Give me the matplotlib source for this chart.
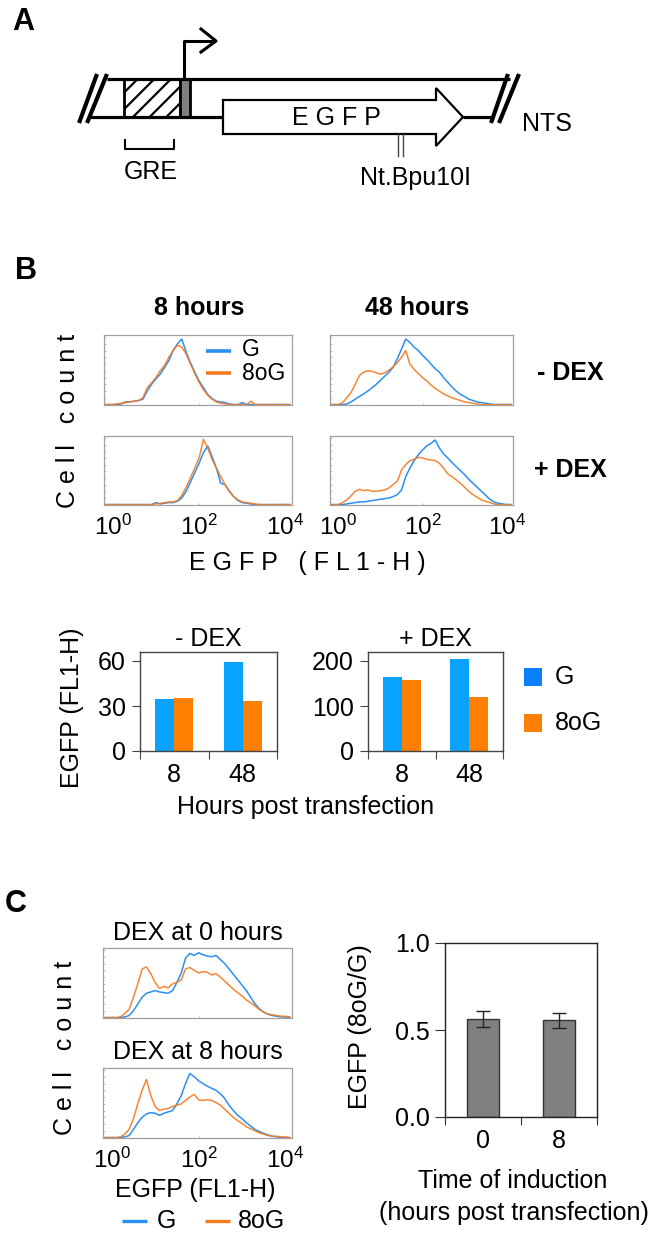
import matplotlib
matplotlib.use("Agg")
import matplotlib.pyplot as plt
import numpy as np
from matplotlib.patches import Polygon, Rectangle

plt.rcParams['font.family'] = ['Liberation Sans', 'DejaVu Sans']
plt.rcParams['mathtext.default'] = 'regular'
plt.rcParams['hatch.linewidth'] = 1.6
FS = 18

# ---- data ----
# flow histograms: log10(EGFP) bins and normalised cell counts
LOG_BINS = [-0.2, -0.1, 0.0, 0.1, 0.2, 0.3, 0.4, 0.5, 0.6, 0.7,
            0.8, 0.9, 1.0, 1.1, 1.2, 1.3, 1.4, 1.5, 1.6, 1.7,
            1.8, 1.9, 2.0, 2.1, 2.2, 2.3, 2.4, 2.5, 2.6, 2.7,
            2.8, 2.9, 3.0, 3.1, 3.2, 3.3, 3.4, 3.5, 3.6, 3.7,
            3.8, 3.9, 4.0, 4.1]

h8_minus_G = [0, 0, 0, 0, 0.01, 0.04, 0.04, 0.05, 0.06, 0.08,
              0.2, 0.3, 0.38, 0.45, 0.55, 0.65, 0.8, 0.9, 0.97, 0.78,
              0.62, 0.48, 0.35, 0.25, 0.15, 0.09, 0.05, 0.04, 0.03, 0.01,
              0, 0, 0.03, 0, 0, 0, 0, 0, 0, 0,
              0, 0, 0, 0]
h8_minus_8oG = [0, 0, 0, 0.01, 0.02, 0.03, 0.04, 0.05, 0.06, 0.1,
                0.25, 0.32, 0.4, 0.5, 0.58, 0.7, 0.8, 0.88, 0.85, 0.75,
                0.6, 0.46, 0.33, 0.22, 0.14, 0.08, 0.04, 0.02, 0.01, 0,
                0, 0, 0, 0, 0.05, 0, 0, 0, 0, 0,
                0, 0, 0, 0]
h48_minus_G = [0, 0, 0, 0, 0.01, 0.04, 0.08, 0.12, 0.16, 0.2,
               0.25, 0.3, 0.36, 0.42, 0.48, 0.55, 0.68, 0.82, 0.97, 0.92,
               0.85, 0.8, 0.73, 0.67, 0.6, 0.53, 0.48, 0.4, 0.33, 0.26,
               0.2, 0.15, 0.12, 0.08, 0.06, 0.04, 0.03, 0.02, 0.01, 0,
               0, 0, 0, 0]
h48_minus_8oG = [0, 0, 0, 0.03, 0.1, 0.18, 0.3, 0.43, 0.48, 0.5,
                 0.49, 0.47, 0.45, 0.47, 0.51, 0.56, 0.62, 0.7, 0.8, 0.6,
                 0.52, 0.46, 0.4, 0.35, 0.29, 0.24, 0.2, 0.16, 0.13, 0.1,
                 0.08, 0.06, 0.04, 0.03, 0.02, 0.01, 0, 0, 0, 0,
                 0, 0, 0, 0]
h8_plus_G = [0, 0, 0, 0, 0, 0, 0, 0, 0, 0,
             0, 0, 0.03, 0.01, 0.02, 0.03, 0.03, 0.05, 0.1, 0.2,
             0.34, 0.48, 0.62, 0.78, 0.88, 0.72, 0.55, 0.32, 0.3, 0.2,
             0.12, 0.06, 0.03, 0.02, 0.01, 0, 0, 0, 0, 0,
             0, 0, 0, 0]
h8_plus_8oG = [0, 0, 0, 0, 0, 0, 0, 0, 0, 0,
               0, 0, 0.01, 0.02, 0.03, 0.04, 0.04, 0.06, 0.14, 0.26,
               0.4, 0.55, 0.7, 0.98, 0.85, 0.68, 0.55, 0.42, 0.3, 0.2,
               0.12, 0.07, 0.04, 0.03, 0.02, 0.01, 0, 0, 0, 0,
               0, 0, 0, 0]
h48_plus_G = [0, 0, 0, 0, 0.01, 0.02, 0.03, 0.04, 0.04, 0.05,
              0.06, 0.07, 0.08, 0.09, 0.1, 0.12, 0.15, 0.22, 0.42, 0.55,
              0.66, 0.75, 0.82, 0.88, 0.92, 0.97, 0.85, 0.76, 0.7, 0.63,
              0.57, 0.51, 0.45, 0.38, 0.32, 0.26, 0.2, 0.14, 0.08, 0.04,
              0.02, 0.01, 0, 0]
h48_plus_8oG = [0, 0, 0, 0.03, 0.07, 0.13, 0.2, 0.23, 0.21, 0.22,
                0.2, 0.2, 0.21, 0.22, 0.25, 0.3, 0.35, 0.52, 0.6, 0.66,
                0.68, 0.71, 0.7, 0.68, 0.67, 0.66, 0.62, 0.55, 0.46, 0.42,
                0.37, 0.32, 0.26, 0.2, 0.15, 0.11, 0.07, 0.05, 0.03, 0.01,
                0, 0, 0, 0]
dex0_G = [0, 0, 0, 0, 0, 0.01, 0.03, 0.1, 0.2, 0.3,
          0.36, 0.38, 0.4, 0.38, 0.37, 0.36, 0.4, 0.52, 0.66, 0.88,
          0.95, 0.92, 0.96, 0.93, 0.91, 0.9, 0.92, 0.86, 0.8, 0.72,
          0.64, 0.56, 0.48, 0.4, 0.3, 0.2, 0.13, 0.08, 0.05, 0.03,
          0.02, 0.01, 0.01, 0]
dex0_8oG = [0, 0, 0, 0, 0.01, 0.06, 0.12, 0.3, 0.5, 0.72,
            0.75, 0.65, 0.52, 0.43, 0.46, 0.44, 0.5, 0.52, 0.56, 0.72,
            0.74, 0.7, 0.66, 0.68, 0.67, 0.63, 0.65, 0.6, 0.54, 0.48,
            0.42, 0.37, 0.32, 0.26, 0.22, 0.17, 0.12, 0.08, 0.05, 0.04,
            0.03, 0.02, 0.02, 0.01]
dex8_G = [0, 0, 0, 0, 0, 0.01, 0.03, 0.12, 0.22, 0.3,
          0.35, 0.37, 0.36, 0.33, 0.36, 0.38, 0.4, 0.5, 0.62, 0.8,
          0.95, 0.9, 0.84, 0.8, 0.76, 0.73, 0.7, 0.65, 0.58, 0.48,
          0.4, 0.33, 0.28, 0.22, 0.17, 0.12, 0.09, 0.06, 0.04, 0.02,
          0.01, 0, 0, 0]
dex8_8oG = [0, 0, 0, 0, 0.01, 0.05, 0.12, 0.28, 0.5, 0.7,
            0.86, 0.62, 0.46, 0.4, 0.42, 0.43, 0.46, 0.48, 0.5, 0.55,
            0.6, 0.64, 0.56, 0.55, 0.56, 0.55, 0.52, 0.48, 0.42, 0.36,
            0.3, 0.25, 0.21, 0.16, 0.13, 0.1, 0.07, 0.05, 0.03, 0.02,
            0.02, 0.01, 0.01, 0]

# mean EGFP bars
HOURS = ['8', '48']
minus_G = [35, 59.3]
minus_8oG = [35.3, 33.5]
plus_G = [164, 204]
plus_8oG = [157, 120]

# ratio 8oG/G by time of induction
INDUCTION = ['0', '8']
ratio = [0.565, 0.557]
ratio_err = [0.046, 0.043]

BLUE = '#2a8ff2'
ORANGE = '#f47a20'
BAR_BLUE = '#0aa2ff'
LEG_BLUE = '#0a80ff'
BAR_ORANGE = '#ff8000'

W, H = 661, 1239
fig = plt.figure(figsize=(W / 100, H / 100), dpi=100)


def px_axes(x0, y0, x1, y1):
    return fig.add_axes([x0 / W, 1 - y1 / H, (x1 - x0) / W, (y1 - y0) / H])


# full-figure overlay in pixel coords, drawn above the data axes
canvas = fig.add_axes([0, 0, 1, 1])
canvas.set_xlim(0, W)
canvas.set_ylim(H, 0)
canvas.axis('off')
canvas.set_zorder(10)


def txt(x, y, s, size=FS, **kw):
    canvas.text(x, y, s, fontsize=size, ha=kw.pop('ha', 'center'),
                va=kw.pop('va', 'center'), **kw)


# ---- panel A: construct diagram ----
lw_dna = 2.3
canvas.plot([107, 510], [79, 79], color='k', lw=lw_dna, solid_capstyle='butt')
canvas.plot([90, 223], [117, 117], color='k', lw=lw_dna, solid_capstyle='butt')
canvas.plot([463, 492], [117, 117], color='k', lw=lw_dna, solid_capstyle='butt')
for xb, xt in [(79, 97), (87, 107), (491, 508), (499, 519)]:
    canvas.plot([xb, xt], [123, 74], color='k', lw=3.0, solid_capstyle='butt')
canvas.add_patch(Rectangle((124, 79), 56, 38, facecolor='white', edgecolor='k',
                           hatch='//', lw=2.0))
canvas.add_patch(Rectangle((180, 79), 10, 38, facecolor='#808080', edgecolor='k', lw=2.0))
canvas.plot([184, 184, 214], [79, 41, 41], color='k', lw=2.2)
canvas.plot([201, 216, 201], [29, 41, 52], color='k', lw=2.2)
canvas.add_patch(Polygon([(223, 100), (436, 100), (436, 88), (463, 117), (436, 146),
                          (436, 134), (223, 134)], closed=True, facecolor='white',
                         edgecolor='k', lw=1.6))
canvas.plot([125, 125, 174, 174], [140, 149, 149, 140], color='k', lw=1.5)
canvas.plot([398, 398], [134, 156], color='#444', lw=1.0)
canvas.plot([403, 403], [134, 156], color='#444', lw=1.0)
txt(336, 118, 'E G F P')
txt(547, 124, 'NTS')
txt(151, 172, 'GRE')
txt(416, 178, 'Nt.Bpu10I')

# panel letters
txt(23, 22, 'A', size=22, fontweight='bold')
txt(26, 271, 'B', size=22, fontweight='bold')
txt(16, 904, 'C', size=22, fontweight='bold')


# ---- flow histograms ----
def hist_axes(box, g, o, ticklabels=False):
    ax = px_axes(*box)
    xs = 10 ** np.array(LOG_BINS)
    ax.plot(xs, g, color=BLUE, lw=1.1)
    ax.plot(xs, o, color=ORANGE, lw=1.1, alpha=0.9)
    ax.set_xscale('log')
    ax.set_xlim(10 ** -0.2, 10 ** 4.15)
    ax.set_ylim(-0.006, 1.03)
    for s in ax.spines.values():
        s.set_color('#a0a0a0')
        s.set_linewidth(0.9)
    ax.set_yticks(np.linspace(0, 1, 11))
    ax.tick_params(axis='y', direction='in', length=1.5, color='#aaaaaa',
                   labelleft=False, width=0.5)
    ax.tick_params(axis='x', which='both', direction='in', length=1.5,
                   color='#aaaaaa', width=0.5)
    ax.set_xticks([1, 100, 10000])
    if ticklabels:
        ax.set_xticklabels(['$10^0$', '$10^2$', '$10^4$'], fontsize=17.5)
        ax.tick_params(axis='x', pad=7)
    else:
        ax.set_xticklabels([])
    return ax


hist_axes((104, 335, 292, 405), h8_minus_G, h8_minus_8oG)
hist_axes((330, 335, 513, 405), h48_minus_G, h48_minus_8oG)
hist_axes((104, 436, 292, 505), h8_plus_G, h8_plus_8oG, True)
hist_axes((330, 436, 513, 505), h48_plus_G, h48_plus_8oG, True)

txt(199, 308, '8 hours', fontweight='bold')
txt(417, 308, '48 hours', fontweight='bold')
txt(570, 373, '- DEX', fontweight='bold')
txt(570, 470, '+ DEX', fontweight='bold')
txt(68, 421, 'C e l l   c o u n t', rotation=90)
txt(307, 563, 'E G F P   ( F L 1 - H )')
canvas.plot([206, 231], [351, 351], color=BLUE, lw=2.6, solid_capstyle='butt')
canvas.plot([206, 231], [373, 373], color=ORANGE, lw=2.6, solid_capstyle='butt')
txt(242, 350, 'G', size=16.5, ha='left')
txt(242, 373, '8oG', size=16.5, ha='left')


# ---- bar charts ----
def bar_axes(box, gvals, ovals, ymax, yticks, title):
    ax = px_axes(*box)
    pos = np.arange(len(HOURS))
    ax.bar(pos - 0.14, gvals, width=0.28, color=BAR_BLUE)
    ax.bar(pos + 0.14, ovals, width=0.28, color=BAR_ORANGE)
    ax.set_xlim(-0.5, len(HOURS) - 0.5)
    ax.set_ylim(0, ymax)
    ax.set_yticks(yticks)
    ax.set_xticks([-0.5, 0.5, 1.5])
    ax.set_xticklabels([])
    ax.set_xticks(pos, minor=True)
    ax.set_xticklabels(HOURS, minor=True, fontsize=FS)
    ax.tick_params(axis='x', which='minor', length=0, pad=9)
    ax.tick_params(axis='x', which='major', length=6, color='#444')
    ax.tick_params(axis='y', length=6, color='#444', labelsize=FS, pad=4)
    for s in ax.spines.values():
        s.set_color('#444')
        s.set_linewidth(1.0)
    ax.set_title(title, fontsize=FS, pad=4)
    return ax


bar_axes((140, 652, 277, 751), minus_G, minus_8oG, 66, [0, 30, 60], '- DEX')
bar_axes((368, 652, 503, 751), plus_G, plus_8oG, 220, [0, 100, 200], '+ DEX')
txt(72, 708, 'EGFP (FL1-H)', rotation=90)
txt(306, 807, 'Hours post transfection')
canvas.add_patch(Rectangle((524, 668), 18, 18, facecolor=LEG_BLUE, edgecolor='none'))
canvas.add_patch(Rectangle((524, 714), 18, 18, facecolor=BAR_ORANGE, edgecolor='none'))
txt(555, 677, 'G', ha='left')
txt(555, 723, '8oG', ha='left')

# ---- panel C histograms ----
hist_axes((103, 948, 292, 1018), dex0_G, dex0_8oG)
hist_axes((103, 1068, 292, 1138), dex8_G, dex8_8oG, True)
txt(198, 933, 'DEX at 0 hours')
txt(198, 1052, 'DEX at 8 hours')
txt(65, 1048, 'C e l l   c o u n t', rotation=90)
txt(195, 1190, 'EGFP (FL1-H)')
canvas.plot([122, 147], [1221, 1221], color=BLUE, lw=2.4, solid_capstyle='butt')
canvas.plot([205, 230], [1221, 1221], color=ORANGE, lw=2.4, solid_capstyle='butt')
txt(157, 1221, 'G', ha='left')
txt(238, 1221, '8oG', ha='left')

# ---- panel C ratio bars ----
axr = px_axes(445, 943, 597, 1117)
pos = np.arange(len(INDUCTION))
axr.bar(pos, ratio, width=0.41, color='#808080', edgecolor='#333333', lw=1.0)
axr.errorbar(pos, ratio, yerr=ratio_err, fmt='none', ecolor='#222222',
             elinewidth=1.0, capsize=5, capthick=1.0)
axr.set_xlim(-0.5, 1.5)
axr.set_ylim(0, 1.0)
axr.set_yticks([0, 0.5, 1.0])
axr.set_yticklabels(['0.0', '0.5', '1.0'])
axr.set_xticks([-0.5, 0.5, 1.5])
axr.set_xticklabels([])
axr.set_xticks(pos, minor=True)
axr.set_xticklabels(INDUCTION, minor=True, fontsize=FS)
axr.tick_params(axis='x', which='minor', length=0, pad=9)
axr.tick_params(axis='x', which='major', length=6, color='#333')
axr.tick_params(axis='y', length=7, color='#333', labelsize=FS, pad=4)
for s in axr.spines.values():
    s.set_color('#222')
    s.set_linewidth(1.0)
txt(360, 1027, 'EGFP (8oG/G)', rotation=90)
txt(513, 1181, 'Time of induction')
txt(514, 1213, '(hours post transfection)')

fig.savefig('out.png', dpi=100)
